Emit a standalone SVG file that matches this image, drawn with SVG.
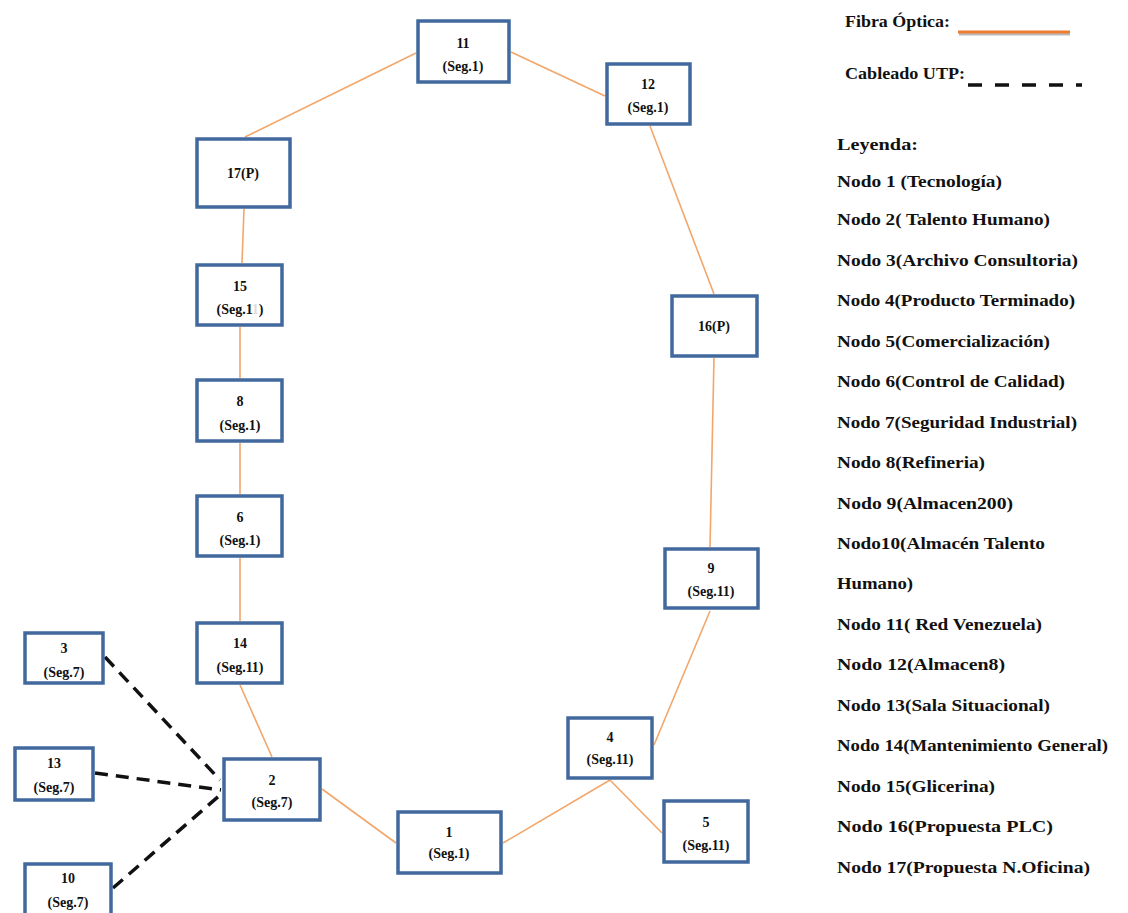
<svg xmlns="http://www.w3.org/2000/svg" width="1128" height="913" viewBox="0 0 1128 913">
<style>
.box{fill:#fff;stroke:#41699d;stroke-width:3.5}
.nt{font-family:"Liberation Serif",serif;font-weight:bold;font-size:14px;fill:#111;text-anchor:middle}
.lg{font-family:"Liberation Serif",serif;font-weight:bold;font-size:17px;fill:#111}
.fo{stroke:#f2a66a;stroke-width:1.6;fill:none}
.utp{stroke:#111;stroke-width:3.5;stroke-dasharray:13 8;fill:none}
</style>
<rect width="1128" height="913" fill="#fff"/>
<g id="connectors">
<line class="fo" x1="416" y1="53" x2="245" y2="137"/>
<line class="fo" x1="511" y1="52" x2="605" y2="96"/>
<line class="fo" x1="650" y1="126" x2="714" y2="294"/>
<line class="fo" x1="714" y1="358" x2="710" y2="547"/>
<line class="fo" x1="710" y1="611" x2="654" y2="745"/>
<line class="fo" x1="610" y1="780" x2="503" y2="843"/>
<line class="fo" x1="610" y1="780" x2="662" y2="833"/>
<line class="fo" x1="396" y1="843" x2="322" y2="789"/>
<line class="fo" x1="272" y1="757" x2="240" y2="685"/>
<line class="fo" x1="240" y1="621" x2="240" y2="558"/>
<line class="fo" x1="240" y1="494" x2="240" y2="443"/>
<line class="fo" x1="240" y1="378" x2="240" y2="327"/>
<line class="fo" x1="242" y1="263" x2="244" y2="209"/>
<line class="utp" x1="105" y1="657" x2="220" y2="780"/>
<line class="utp" x1="95" y1="773" x2="221" y2="790"/>
<line class="utp" x1="113" y1="888" x2="220" y2="795"/>
</g>
<g id="n11"><rect class="box" x="418" y="21" width="91" height="61"/><text class="nt" x="463" y="48">11</text><text class="nt" x="463" y="71">(Seg.1)</text></g>
<g id="n12"><rect class="box" x="607" y="64" width="83" height="60"/><text class="nt" x="648" y="89">12</text><text class="nt" x="648" y="112">(Seg.1)</text></g>
<g id="n17"><rect class="box" x="197" y="139" width="93" height="68"/><text class="nt" x="243" y="178">17(P)</text></g>
<g id="n15"><rect class="box" x="197" y="265" width="85" height="60"/><text class="nt" x="240" y="291">15</text><text class="nt" x="240" y="314">(Seg.1<tspan fill="#ddd">1</tspan>)</text></g>
<g id="n16"><rect class="box" x="672" y="296" width="85" height="60"/><text class="nt" x="714" y="331">16(P)</text></g>
<g id="n8"><rect class="box" x="197" y="380" width="85" height="61"/><text class="nt" x="240" y="406">8</text><text class="nt" x="240" y="430">(Seg.1)</text></g>
<g id="n6"><rect class="box" x="197" y="496" width="85" height="60"/><text class="nt" x="240" y="522">6</text><text class="nt" x="240" y="545">(Seg.1)</text></g>
<g id="n14"><rect class="box" x="197" y="623" width="85" height="60"/><text class="nt" x="240" y="648">14</text><text class="nt" x="240" y="672">(Seg.11)</text></g>
<g id="n9"><rect class="box" x="665" y="549" width="93" height="59"/><text class="nt" x="711" y="573">9</text><text class="nt" x="711" y="596">(Seg.11)</text></g>
<g id="n4"><rect class="box" x="568" y="718" width="84" height="60"/><text class="nt" x="610" y="742">4</text><text class="nt" x="610" y="764">(Seg.11)</text></g>
<g id="n5"><rect class="box" x="664" y="801" width="84" height="61"/><text class="nt" x="706" y="827">5</text><text class="nt" x="706" y="850">(Seg.11)</text></g>
<g id="n1"><rect class="box" x="398" y="812" width="103" height="61"/><text class="nt" x="449" y="837">1</text><text class="nt" x="449" y="858">(Seg.1)</text></g>
<g id="n2"><rect class="box" x="224" y="759" width="96" height="61"/><text class="nt" x="272" y="785">2</text><text class="nt" x="272" y="807">(Seg.7)</text></g>
<g id="n3"><rect class="box" x="25" y="633" width="78" height="50"/><text class="nt" x="64" y="653">3</text><text class="nt" x="64" y="677">(Seg.7)</text></g>
<g id="n13"><rect class="box" x="15" y="748" width="78" height="52"/><text class="nt" x="54" y="768">13</text><text class="nt" x="54" y="792">(Seg.7)</text></g>
<g id="n10"><rect class="box" x="25" y="864" width="86" height="60"/><text class="nt" x="68" y="883">10</text><text class="nt" x="68" y="907">(Seg.7)</text></g>
<g id="legend">
<text class="lg" x="845" y="27" textLength="105" lengthAdjust="spacingAndGlyphs">Fibra Óptica:</text>
<line x1="959" y1="34" x2="1070" y2="34" stroke="#bbb" stroke-width="3"/>
<line x1="958" y1="32" x2="1070" y2="32" stroke="#ed7d31" stroke-width="3"/>
<text class="lg" x="845" y="79" textLength="120" lengthAdjust="spacingAndGlyphs">Cableado UTP:</text>
<line x1="968" y1="85" x2="1082" y2="85" stroke="#111" stroke-width="3.5" stroke-dasharray="14 13"/>
<text class="lg" x="837" y="150" textLength="81" lengthAdjust="spacingAndGlyphs">Leyenda:</text>
<text class="lg" x="837" y="187" textLength="165" lengthAdjust="spacingAndGlyphs">Nodo 1 (Tecnología)</text>
<text class="lg" x="837" y="225" textLength="213" lengthAdjust="spacingAndGlyphs">Nodo 2( Talento Humano)</text>
<text class="lg" x="837" y="266" textLength="241" lengthAdjust="spacingAndGlyphs">Nodo 3(Archivo Consultoria)</text>
<text class="lg" x="837" y="306" textLength="238" lengthAdjust="spacingAndGlyphs">Nodo 4(Producto Terminado)</text>
<text class="lg" x="837" y="347" textLength="213" lengthAdjust="spacingAndGlyphs">Nodo 5(Comercialización)</text>
<text class="lg" x="837" y="387" textLength="228" lengthAdjust="spacingAndGlyphs">Nodo 6(Control de Calidad)</text>
<text class="lg" x="837" y="428" textLength="240" lengthAdjust="spacingAndGlyphs">Nodo 7(Seguridad Industrial)</text>
<text class="lg" x="837" y="468" textLength="148" lengthAdjust="spacingAndGlyphs">Nodo 8(Refineria)</text>
<text class="lg" x="837" y="509" textLength="176" lengthAdjust="spacingAndGlyphs">Nodo 9(Almacen200)</text>
<text class="lg" x="837" y="549" textLength="208" lengthAdjust="spacingAndGlyphs">Nodo10(Almacén Talento</text>
<text class="lg" x="837" y="589" textLength="76" lengthAdjust="spacingAndGlyphs">Humano)</text>
<text class="lg" x="837" y="630" textLength="205" lengthAdjust="spacingAndGlyphs">Nodo 11( Red Venezuela)</text>
<text class="lg" x="837" y="670" textLength="168" lengthAdjust="spacingAndGlyphs">Nodo 12(Almacen8)</text>
<text class="lg" x="837" y="711" textLength="213" lengthAdjust="spacingAndGlyphs">Nodo 13(Sala Situacional)</text>
<text class="lg" x="837" y="751" textLength="271" lengthAdjust="spacingAndGlyphs">Nodo 14(Mantenimiento General)</text>
<text class="lg" x="837" y="792" textLength="158" lengthAdjust="spacingAndGlyphs">Nodo 15(Glicerina)</text>
<text class="lg" x="837" y="832" textLength="216" lengthAdjust="spacingAndGlyphs">Nodo 16(Propuesta PLC)</text>
<text class="lg" x="837" y="873" textLength="253" lengthAdjust="spacingAndGlyphs">Nodo 17(Propuesta N.Oficina)</text>
</g>
</svg>
